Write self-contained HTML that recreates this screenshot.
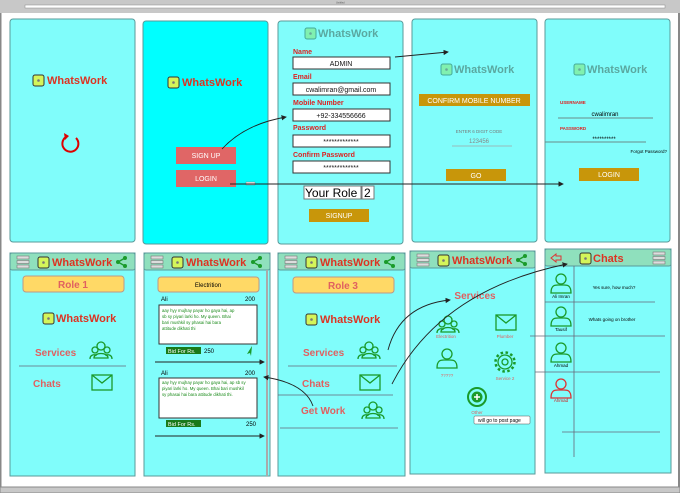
<!DOCTYPE html>
<html><head><meta charset="utf-8"><style>
html,body{margin:0;padding:0;background:#fff;width:680px;height:493px;overflow:hidden}
svg{display:block;font-family:"Liberation Sans",sans-serif}
.p{fill:#80fdfb;stroke:#5a9a9a;stroke-width:1}
.hd{fill:#8fe0bd;stroke:#5a9a9a}
.lg{fill:#d32;font-weight:bold;font-size:11px}
.lgg{fill:#5aa8a0;font-weight:bold;font-size:11px}
.lbl{fill:#d22;font-weight:bold;font-size:7px}
.in{fill:#fff;stroke:#333;stroke-width:1}
.it{font-size:7px;fill:#111;text-anchor:middle}
.btnt{fill:#fff;font-size:7px;text-anchor:middle}
.pk{fill:#e06060;font-size:10px;font-weight:bold}
.ic{fill:none;stroke:#1a9a2a;stroke-width:1.3}
.ln{stroke:#667;stroke-width:0.8}
.ar{fill:none;stroke:#222;stroke-width:0.9}
.gt{fill:#1a8a1a;font-size:4.3px}
.sm{font-size:5px}
</style></head><body>
<svg width="680" height="493" viewBox="0 0 680 493">
<defs><marker id="a" markerWidth="6" markerHeight="6" refX="5" refY="3" orient="auto"><path d="M0,0L6,3L0,6z" fill="#222"/></marker>
<g id="logo"><rect x="0" y="-9" width="11" height="11" rx="2" fill="#d4f55a" stroke="#333"/><circle cx="5.5" cy="-3.5" r="1.3" fill="#777"/></g>
<g id="logog"><rect x="0" y="-9" width="11" height="11" rx="2" fill="#80f0b0" stroke="#4a9"/><circle cx="5.5" cy="-3.5" r="1.3" fill="#6a9"/></g>
<g id="ham"><rect x="0" y="0" width="12" height="3" fill="#ddd" stroke="#777" stroke-width=".6"/><rect x="0" y="4.5" width="12" height="3" fill="#ddd" stroke="#777" stroke-width=".6"/><rect x="0" y="9" width="12" height="3" fill="#ddd" stroke="#777" stroke-width=".6"/></g>
<g id="share"><circle cx="0" cy="4" r="2" fill="#1a9a2a"/><circle cx="7" cy="0" r="2" fill="#1a9a2a"/><circle cx="7" cy="8" r="2" fill="#1a9a2a"/><path d="M0,4L7,0M0,4L7,8" stroke="#1a9a2a" stroke-width="1.3"/></g>
<g id="grp" class="ic"><circle cx="10" cy="5" r="4"/><path d="M3,17c0-6 14-6 14,0z"/><circle cx="4" cy="9" r="3"/><circle cx="16" cy="9" r="3"/><path d="M-1,18c0-5 6-5 6-3M21,18c0-5-6-5-6-3"/></g>
<g id="env" class="ic"><rect x="0" y="0" width="20" height="15"/><path d="M0,0L10,8L20,0"/></g>
<g id="per"><circle cx="0" cy="-6" r="5"/><path d="M-10,8c0-8 4-8 7-8h6c3,0 7,0 7,8z"/></g>
</defs>
<!-- browser chrome -->
<rect x="0" y="0" width="680" height="13" fill="#c8c8c8"/>
<rect x="25" y="5" width="640" height="3" fill="#fff" stroke="#888" stroke-width=".5"/>
<text x="336" y="3.5" font-size="2.5" fill="#555">Untitled</text>
<rect x="0" y="13" width="1.5" height="478" fill="#888"/>
<rect x="678" y="13" width="2" height="478" fill="#888"/>
<rect x="0" y="487" width="680" height="6" fill="#c8c8c8" stroke="#888"/>
<!-- P1 -->
<rect class="p" x="10" y="19" width="125" height="223" rx="3"/>
<use href="#logo" x="33" y="84"/><text class="lg" x="47" y="84">WhatsWork</text>
<path d="M76,138 A8,8 0 1 1 66,137" fill="none" stroke="#d00" stroke-width="2"/><path d="M64,133l5,3l-4,4z" fill="#d00"/>
<!-- P2 -->
<rect x="143" y="21" width="125" height="223" rx="3" fill="#00ffff" stroke="#5a9a9a"/>
<use href="#logo" x="168" y="86"/><text class="lg" x="182" y="86">WhatsWork</text>
<rect x="176" y="147" width="60" height="17" fill="#e06666"/><text class="btnt" x="206" y="158">SIGN UP</text>
<rect x="176" y="170" width="60" height="17" fill="#e06666"/><text class="btnt" x="206" y="181">LOGIN</text>
<rect x="246" y="182" width="9" height="3" fill="#eee" stroke="#777" stroke-width=".4"/>
<!-- P3 -->
<rect class="p" x="278" y="21" width="125" height="223" rx="3"/>
<use href="#logog" x="305" y="37"/><text class="lgg" x="318" y="37">WhatsWork</text>
<text class="lbl" x="293" y="54">Name</text><rect class="in" x="293" y="57" width="97" height="12"/><text class="it" x="341" y="66">ADMIN</text>
<text class="lbl" x="293" y="79">Email</text><rect class="in" x="293" y="83" width="97" height="12"/><text class="it" x="341" y="92">cwalimran@gmail.com</text>
<text class="lbl" x="293" y="105">Mobile Number</text><rect class="in" x="293" y="109" width="97" height="12"/><text class="it" x="341" y="118">+92-334556666</text>
<text class="lbl" x="293" y="130">Password</text><rect class="in" x="293" y="135" width="97" height="12"/><text class="it" x="341" y="144">*************</text>
<text class="lbl" x="293" y="157">Confirm Password</text><rect class="in" x="293" y="161" width="97" height="12"/><text class="it" x="341" y="170">*************</text>
<rect x="304" y="186" width="57" height="13" fill="#fff" stroke="#777"/><text x="305" y="197" font-size="12">Your Role</text>
<rect x="362" y="186" width="12" height="13" fill="#fff" stroke="#777"/><text x="364" y="197" font-size="12">2</text>
<rect x="309" y="209" width="60" height="13" fill="#c8960a"/><text class="btnt" x="339" y="218">SIGNUP</text>
<!-- P4 -->
<rect class="p" x="412" y="19" width="125" height="223" rx="3"/>
<use href="#logog" x="441" y="73"/><text class="lgg" x="454" y="73">WhatsWork</text>
<rect x="419" y="94" width="111" height="12" fill="#c8960a"/><text class="btnt" x="474" y="103" font-size="6">CONFIRM MOBILE NUMBER</text>
<text x="479" y="133" font-size="4.5" fill="#777" text-anchor="middle">ENTER 6 DIGIT CODE</text>
<text x="479" y="143" font-size="6" fill="#888" text-anchor="middle">123456</text>
<line x1="452" y1="146" x2="512" y2="146" stroke="#9bb"/>
<rect x="446" y="169" width="60" height="12" fill="#c8960a"/><text class="btnt" x="476" y="178">GO</text>
<!-- P5 -->
<rect class="p" x="545" y="19" width="125" height="223" rx="3"/>
<use href="#logog" x="574" y="73"/><text class="lgg" x="587" y="73">WhatsWork</text>
<text x="560" y="104" font-size="4.5" font-weight="bold" fill="#d22">USERNAME</text>
<text x="605" y="116" font-size="6" text-anchor="middle">cwalimran</text><line x1="558" y1="118" x2="653" y2="118" stroke="#6a8a8a"/>
<text x="560" y="130" font-size="4.5" font-weight="bold" fill="#d22">PASSWORD</text>
<text x="604" y="141" font-size="6" text-anchor="middle">**********</text><line x1="545" y1="142" x2="646" y2="142" stroke="#6a8a8a"/>
<text x="667" y="153" font-size="4.5" text-anchor="end">Forgot Password?</text>
<rect x="579" y="168" width="60" height="13" fill="#c8960a"/><text class="btnt" x="609" y="177">LOGIN</text>
<!-- top arrows -->
<path class="ar" d="M395,57 L448,52" marker-end="url(#a)"/>
<path class="ar" d="M222,149 Q245,124 286,117" marker-end="url(#a)"/>
<path class="ar" d="M230,184 L563,184" marker-end="url(#a)"/>
<!-- B1 -->
<rect class="p" x="10" y="253" width="125" height="223"/>
<rect class="hd" x="10" y="253" width="125" height="17" rx="2"/>
<use href="#ham" x="17" y="256"/><use href="#logo" x="38" y="266"/><text class="lg" x="52" y="266">WhatsWork</text><use href="#share" x="118" y="258"/>
<rect x="23" y="276" width="101" height="16" rx="3" fill="#ffd966" stroke="#b98"/><text class="pk" x="73" y="288" text-anchor="middle">Role 1</text>
<use href="#logo" x="43" y="322"/><text class="lg" x="56" y="322">WhatsWork</text>
<text class="pk" x="35" y="356">Services</text><use href="#grp" x="91" y="341"/>
<line class="ln" x1="19" y1="366" x2="126" y2="366"/>
<text class="pk" x="33" y="387">Chats</text><use href="#env" x="92" y="375"/>
<!-- B2 -->
<rect class="p" x="144" y="253" width="126" height="223"/>
<rect class="hd" x="144" y="253" width="126" height="17" rx="2"/>
<use href="#ham" x="151" y="256"/><use href="#logo" x="172" y="266"/><text class="lg" x="186" y="266">WhatsWork</text><use href="#share" x="253" y="258"/>
<line x1="267" y1="270" x2="267" y2="476" stroke="#aaa" stroke-width="2"/>
<rect x="158" y="277" width="101" height="15" rx="3" fill="#ffd966" stroke="#b98"/><text x="208" y="287" font-size="6" text-anchor="middle">Electrition</text>
<text x="161" y="301" font-size="6">Ali</text><text x="255" y="301" font-size="6" text-anchor="end">200</text>
<rect class="in" x="159" y="305" width="98" height="39"/>
<text class="gt" x="162" y="312">aay hyy mujhay payar ho gaya hai, ap</text><text class="gt" x="162" y="318">sb sy piyari larki ho. My queen. Bhai</text><text class="gt" x="162" y="324">bari mushkil sy phasai hai bara</text><text class="gt" x="162" y="330">attitude dikhati thi</text>
<rect x="166" y="347" width="35" height="7" fill="#1a7a1a"/><text x="168" y="353" font-size="5.5" fill="#fff">Bid For Rs.</text><text x="204" y="353" font-size="6">250</text>
<path d="M252,346l-5,8l3,-1l1,3z" fill="#1a9a2a"/>
<line class="ar" x1="155" y1="362" x2="264" y2="362" marker-end="url(#a)"/>
<text x="161" y="375" font-size="6">Ali</text><text x="255" y="375" font-size="6" text-anchor="end">200</text>
<rect class="in" x="159" y="378" width="98" height="40"/>
<text class="gt" x="162" y="384">aay hyy mujhay payar ho gaya hai, ap sb sy</text><text class="gt" x="162" y="390">piyari larki ho. My queen. Bhai bari mushkil</text><text class="gt" x="162" y="396">sy phasai hai bara attitude dikhati thi.</text>
<rect x="166" y="420" width="35" height="7" fill="#1a7a1a"/><text x="168" y="426" font-size="5.5" fill="#fff">Bid For Rs.</text><text x="256" y="426" font-size="6" text-anchor="end">250</text>
<line class="ar" x1="155" y1="436" x2="264" y2="436" marker-end="url(#a)"/>
<!-- B3 -->
<rect class="p" x="278" y="253" width="127" height="223"/>
<rect class="hd" x="278" y="253" width="127" height="17" rx="2"/>
<use href="#ham" x="285" y="256"/><use href="#logo" x="306" y="266"/><text class="lg" x="320" y="266">WhatsWork</text><use href="#share" x="386" y="258"/>
<rect x="293" y="277" width="101" height="16" rx="3" fill="#ffd966" stroke="#b98"/><text class="pk" x="343" y="289" text-anchor="middle">Role 3</text>
<use href="#logo" x="306" y="323"/><text class="lg" x="320" y="323">WhatsWork</text>
<text class="pk" x="303" y="356">Services</text><use href="#grp" x="359" y="341"/>
<line class="ln" x1="288" y1="366" x2="397" y2="366"/>
<text class="pk" x="302" y="387">Chats</text><use href="#env" x="360" y="375"/>
<line class="ln" x1="278" y1="395" x2="393" y2="395"/>
<text class="pk" x="301" y="414">Get Work</text><use href="#grp" x="363" y="401"/>
<line class="ln" x1="280" y1="428" x2="398" y2="428"/>
<!-- B4 -->
<rect class="p" x="410" y="251" width="125" height="223"/>
<rect class="hd" x="410" y="251" width="125" height="17" rx="2"/>
<use href="#ham" x="417" y="254"/><use href="#logo" x="438" y="264"/><text class="lg" x="452" y="264">WhatsWork</text><use href="#share" x="518" y="256"/>
<text class="pk" x="475" y="299" text-anchor="middle">Services</text>
<use href="#grp" x="438" y="315"/><text x="446" y="338" font-size="4.5" fill="#e06060" text-anchor="middle">Electrition</text>
<use href="#env" x="496" y="315"/><text x="505" y="338" font-size="4.5" fill="#e06060" text-anchor="middle">Plumber</text>
<use href="#per" x="447" y="360" class="ic"/><text x="447" y="377" font-size="4.5" fill="#e06060" text-anchor="middle">?????</text>
<circle cx="505" cy="362" r="7" class="ic"/><circle cx="505" cy="362" r="3" class="ic"/><circle cx="505" cy="362" r="9.5" fill="none" stroke="#1a9a2a" stroke-width="2.5" stroke-dasharray="2.5 2.5"/>
<text x="505" y="380" font-size="4.5" fill="#e06060" text-anchor="middle">Service 2</text>
<circle cx="477" cy="397" r="9" fill="none" stroke="#1a9a2a" stroke-width="2"/><circle cx="477" cy="397" r="5.5" fill="#1a9a2a"/><path d="M477,394v6M474,397h6" stroke="#fff" stroke-width="1.5"/>
<text x="477" y="414" font-size="4.5" fill="#e06060" text-anchor="middle">Other</text>
<rect x="474" y="416" width="56" height="8" rx="1" fill="#fff" stroke="#555" stroke-width=".5"/><text x="478" y="422" font-size="5">will go to post page</text>
<!-- B5 -->
<rect class="p" x="545" y="249" width="126" height="224"/>
<rect class="hd" x="545" y="249" width="126" height="17" rx="2"/>
<path d="M551,258l5,-4v2h5v4h-5v2z" fill="none" stroke="#d33"/>
<use href="#logo" x="580" y="262"/><text class="lg" x="593" y="262">Chats</text><use href="#ham" x="653" y="252"/>
<line class="ln" x1="574" y1="266" x2="574" y2="457"/>
<use href="#per" x="561" y="285" class="ic"/><text x="561" y="298" font-size="4.5" text-anchor="middle">Ali Imran</text>
<use href="#per" x="561" y="318" class="ic"/><text x="561" y="331" font-size="4.5" text-anchor="middle">Tausif</text>
<use href="#per" x="561" y="354" class="ic"/><text x="561" y="367" font-size="4.5" text-anchor="middle">Ahmad</text>
<use href="#per" x="561" y="390" fill="none" stroke="#d33" stroke-width="1.3"/><text x="561" y="402" font-size="4.5" fill="#c22" text-anchor="middle">Ahmad</text>
<text x="614" y="289" font-size="4.5" text-anchor="middle">Yes sure, how much?</text>
<text x="612" y="321" font-size="4.5" text-anchor="middle">Whats going on brother</text>
<line class="ln" x1="545" y1="302" x2="655" y2="302"/>
<line class="ln" x1="530" y1="336" x2="665" y2="336"/>
<line class="ln" x1="535" y1="372" x2="660" y2="372"/>
<line class="ln" x1="562" y1="432" x2="660" y2="432"/>
<!-- bottom arrows -->
<path class="ar" d="M388,350 Q400,305 450,300" marker-end="url(#a)"/>
<path class="ar" d="M392,384 Q440,290 567,264" marker-end="url(#a)"/>
<path class="ar" d="M313,406 Q305,383 264,377" marker-end="url(#a)"/>
</svg>
</body></html>
